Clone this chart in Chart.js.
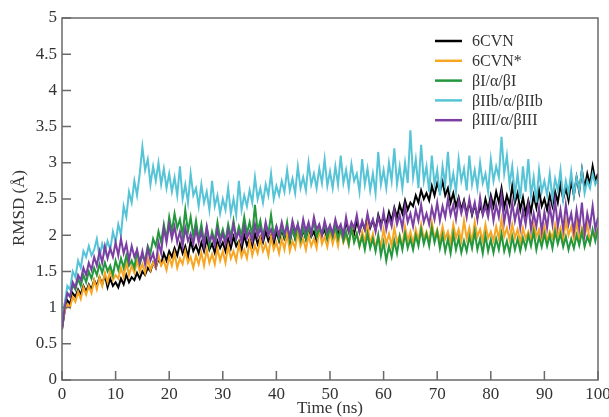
<!DOCTYPE html>
<html>
<head>
<meta charset="utf-8">
<script src="https://cdn.jsdelivr.net/npm/chart.js@4.4.1/dist/chart.umd.min.js"></script>
<style>
  html, body { margin: 0; padding: 0; background: #fff; }
  #wrap { width: 609px; height: 417px; position: relative; }
</style>
</head>
<body>
<div id="wrap"><canvas id="rmsd"></canvas></div>
<script>
// ── RMSD vs time, five tubulin systems, sampled every 0.5 ns (0–100 ns)
const T_STEP = 0.5;
const X_TICKS = [0, 10, 20, 30, 40, 50, 60, 70, 80, 90, 100];
const Y_TICKS = [0, 0.5, 1, 1.5, 2, 2.5, 3, 3.5, 4, 4.5, 5];

const labels = ['6CVN', '6CVN*', 'βI/α/βI', 'βIIb/α/βIIb', 'βIII/α/βIII'];
const colors = ['#000000', '#f7a623', '#23973c', '#56c4d6', '#7b3fa3'];

const rmsd_6cvn = [
  0.70, 0.95, 1.10, 1.05, 1.20, 1.15, 1.25, 1.18, 1.30, 1.22, 1.32,
  1.25, 1.38, 1.30, 1.42, 1.32, 1.45, 1.28, 1.40, 1.30, 1.35,
  1.28, 1.40, 1.32, 1.45, 1.35, 1.42, 1.38, 1.48, 1.40, 1.50,
  1.45, 1.55, 1.50, 1.62, 1.55, 1.68, 1.60, 1.75, 1.65, 1.78,
  1.70, 1.82, 1.72, 1.88, 1.75, 1.85, 1.70, 1.92, 1.78, 1.86,
  1.75, 1.90, 1.78, 1.95, 1.80, 1.88, 1.76, 1.92, 1.82, 1.90,
  1.78, 1.95, 1.82, 1.98, 1.85, 1.92, 1.80, 2.00, 1.86, 1.95,
  1.85, 2.02, 1.88, 1.98, 1.90, 2.05, 1.92, 2.00, 1.88, 2.05,
  1.92, 2.08, 1.95, 2.02, 1.90, 2.10, 1.95, 2.05, 1.92, 2.08,
  1.95, 2.10, 1.98, 2.05, 1.92, 2.12, 2.00, 2.08, 1.95, 2.10,
  1.98, 2.15, 2.02, 2.10, 2.00, 2.18, 2.05, 2.12, 2.02, 2.20,
  2.05, 2.18, 2.08, 2.25, 2.10, 2.20, 2.08, 2.28, 2.15, 2.25,
  2.15, 2.32, 2.20, 2.38, 2.25, 2.42, 2.30, 2.48, 2.35, 2.45,
  2.40, 2.55, 2.45, 2.62, 2.50, 2.58, 2.48, 2.68, 2.55, 2.72,
  2.60, 2.74, 2.55, 2.65, 2.45, 2.58, 2.40, 2.52, 2.35, 2.48,
  2.30, 2.45, 2.28, 2.42, 2.25, 2.40, 2.30, 2.50, 2.35, 2.55,
  2.40, 2.60, 2.45, 2.65, 2.38, 2.55, 2.42, 2.68, 2.45, 2.58,
  2.35, 2.52, 2.30, 2.48, 2.32, 2.55, 2.38, 2.62, 2.40, 2.50,
  2.35, 2.55, 2.40, 2.60, 2.45, 2.70, 2.50, 2.65, 2.48, 2.75,
  2.55, 2.80, 2.60, 2.90, 2.65, 2.85, 2.70, 2.95, 2.75, 2.85
];

const rmsd_6cvn_star = [
  0.75, 0.95, 1.05, 1.00, 1.15, 1.08, 1.22, 1.12, 1.28, 1.18, 1.30,
  1.20, 1.38, 1.25, 1.42, 1.30, 1.48, 1.35, 1.52, 1.38, 1.45,
  1.40, 1.55, 1.42, 1.62, 1.45, 1.58, 1.48, 1.65, 1.50, 1.60,
  1.48, 1.68, 1.52, 1.62, 1.55, 1.72, 1.58, 1.65, 1.52, 1.70,
  1.58, 1.75, 1.55, 1.68, 1.60, 1.78, 1.62, 1.70, 1.55, 1.72,
  1.60, 1.76, 1.58, 1.80, 1.62, 1.74, 1.60, 1.82, 1.65, 1.78,
  1.62, 1.85, 1.68, 1.78, 1.65, 1.88, 1.70, 1.80, 1.68, 1.92,
  1.72, 1.86, 1.75, 1.95, 1.78, 1.88, 1.72, 1.98, 1.80, 1.90,
  1.75, 1.95, 1.80, 2.02, 1.78, 1.92, 1.82, 2.05, 1.85, 1.95,
  1.80, 2.00, 1.85, 1.95, 1.82, 2.08, 1.88, 1.98, 1.84, 2.05,
  1.88, 2.02, 1.85, 2.10, 1.90, 2.00, 1.86, 2.12, 1.92, 2.02,
  1.85, 2.05, 1.90, 2.15, 1.88, 2.02, 1.82, 1.98, 1.85, 2.08,
  1.88, 2.02, 1.85, 2.10, 1.90, 2.00, 1.84, 2.12, 1.92, 2.05,
  1.88, 2.08, 1.92, 2.15, 1.95, 2.05, 1.90, 2.18, 1.95, 2.08,
  1.92, 2.12, 1.95, 2.05, 1.90, 2.15, 1.96, 2.08, 1.92, 2.20,
  1.95, 2.10, 1.90, 2.18, 1.98, 2.08, 1.92, 2.15, 1.96, 2.05,
  1.92, 2.12, 1.95, 2.22, 1.98, 2.10, 1.94, 2.15, 1.96, 2.08,
  1.90, 2.10, 1.95, 2.05, 1.92, 2.15, 1.98, 2.08, 1.94, 2.12,
  1.92, 2.05, 1.96, 2.15, 1.98, 2.10, 1.94, 2.20, 2.00, 2.12,
  1.95, 2.18, 1.92, 2.10, 1.98, 2.15, 1.90, 2.05, 2.00, 2.10
];

const rmsd_b1 = [
  0.80, 1.05, 1.20, 1.15, 1.32, 1.25, 1.40, 1.30, 1.45, 1.35, 1.50,
  1.40, 1.55, 1.45, 1.60, 1.48, 1.62, 1.50, 1.58, 1.45, 1.65,
  1.52, 1.68, 1.55, 1.72, 1.58, 1.65, 1.55, 1.78, 1.60, 1.72,
  1.65, 1.85, 1.75, 1.95, 1.85, 2.05, 1.90, 2.15, 1.95, 2.25,
  2.05, 2.30, 2.10, 2.22, 2.00, 2.35, 2.05, 2.25, 1.98, 2.20,
  1.95, 2.15, 1.90, 2.10, 1.85, 2.05, 1.92, 2.18, 1.95, 2.08,
  1.92, 2.15, 1.98, 2.20, 1.95, 2.12, 2.00, 2.25, 2.02, 2.18,
  2.00, 2.42, 2.05, 2.20, 1.98, 2.15, 2.02, 2.28, 2.00, 2.12,
  1.95, 2.10, 1.98, 2.18, 1.92, 2.08, 1.96, 2.15, 1.94, 2.10,
  1.95, 2.12, 2.00, 2.20, 1.98, 2.08, 2.02, 2.15, 1.96, 2.10,
  1.98, 2.12, 1.95, 2.08, 1.92, 2.05, 1.88, 2.10, 1.90, 2.02,
  1.85, 1.98, 1.80, 2.02, 1.82, 1.95, 1.78, 2.00, 1.72, 1.90,
  1.65, 1.85, 1.70, 1.92, 1.75, 1.98, 1.80, 2.02, 1.82, 1.95,
  1.80, 2.00, 1.85, 2.08, 1.88, 2.02, 1.85, 2.10, 1.90, 2.05,
  1.82, 2.00, 1.78, 1.95, 1.75, 2.02, 1.80, 1.96, 1.76, 1.92,
  1.78, 1.98, 1.82, 2.05, 1.80, 1.95, 1.75, 2.00, 1.78, 1.94,
  1.76, 1.95, 1.80, 2.02, 1.78, 1.92, 1.75, 1.98, 1.80, 1.95,
  1.78, 1.96, 1.82, 2.00, 1.85, 2.05, 1.80, 1.98, 1.84, 2.02,
  1.85, 2.00, 1.82, 2.05, 1.88, 2.02, 1.84, 1.98, 1.80, 1.95,
  1.82, 2.00, 1.86, 2.05, 1.84, 1.98, 1.88, 2.08, 1.92, 2.10
];

const rmsd_b2b = [
  0.75, 1.05, 1.30, 1.25, 1.50, 1.42, 1.65, 1.55, 1.78, 1.70, 1.85,
  1.72, 1.80, 1.95, 1.70, 1.88, 1.76, 1.92, 1.80, 2.05, 1.90,
  2.15, 2.00, 2.40, 2.25, 2.60, 2.45, 2.75, 2.55, 2.85, 3.22,
  2.90, 3.05, 2.70, 2.95, 2.75, 3.00, 2.70, 2.92, 2.65, 2.85,
  2.60, 2.80, 2.55, 2.95, 2.50, 2.70, 2.45, 2.85, 2.55, 2.65,
  2.40, 2.70, 2.45, 2.60, 2.35, 2.75, 2.40, 2.55, 2.30, 2.50,
  2.35, 2.65, 2.30, 2.50, 2.28, 2.75, 2.35, 2.55, 2.40, 2.62,
  2.45, 2.80, 2.50, 2.65, 2.45, 2.70, 2.55, 2.85, 2.50, 2.68,
  2.55, 2.75, 2.60, 2.90, 2.62, 2.78, 2.58, 2.95, 2.65, 2.80,
  2.62, 3.00, 2.70, 2.85, 2.65, 2.92, 2.72, 3.05, 2.68, 2.88,
  2.65, 2.95, 2.70, 3.10, 2.72, 2.90, 2.65, 2.98, 2.75, 2.85,
  2.60, 3.05, 2.70, 2.92, 2.62, 2.85, 2.58, 3.15, 2.70, 2.90,
  2.65, 3.00, 2.75, 3.20, 2.70, 2.95, 2.65, 3.00, 2.72, 3.45,
  2.80, 3.05, 2.65, 3.25, 2.75, 2.95, 2.60, 3.10, 2.70, 2.90,
  2.55, 2.95, 2.70, 3.15, 2.65, 2.85, 2.60, 3.05, 2.75, 2.92,
  2.62, 3.10, 2.70, 2.90, 2.65, 3.00, 2.72, 2.85, 2.60, 3.05,
  2.75, 2.95, 2.80, 3.36, 2.85, 3.10, 2.70, 2.95, 2.55, 2.85,
  2.50, 2.95, 2.60, 3.05, 2.55, 2.80, 2.45, 2.90, 2.60, 2.75,
  2.55, 2.85, 2.50, 2.78, 2.62, 2.90, 2.50, 2.75, 2.58, 2.88,
  2.55, 2.80, 2.62, 2.90, 2.58, 2.75, 2.65, 2.85, 2.70, 2.78
];

const rmsd_b3 = [
  0.70, 1.00, 1.20, 1.15, 1.35, 1.28, 1.45, 1.38, 1.55, 1.45, 1.62,
  1.52, 1.70, 1.58, 1.78, 1.62, 1.85, 1.68, 1.82, 1.70, 1.90,
  1.72, 1.95, 1.75, 1.88, 1.65, 1.85, 1.70, 1.80, 1.62, 1.78,
  1.60, 1.82, 1.65, 1.75, 1.58, 1.90, 1.75, 2.10, 1.90, 2.15,
  1.95, 2.12, 1.90, 2.05, 1.85, 2.10, 1.92, 2.02, 1.88, 2.08,
  1.90, 2.05, 1.85, 2.12, 1.92, 2.00, 1.86, 2.08, 1.90, 2.02,
  1.88, 2.08, 1.92, 2.15, 1.95, 2.05, 1.90, 2.12, 1.96, 2.05,
  1.92, 2.15, 1.98, 2.10, 1.95, 2.18, 2.00, 2.08, 1.96, 2.12,
  2.00, 2.18, 2.02, 2.12, 1.98, 2.20, 2.05, 2.15, 2.00, 2.22,
  2.05, 2.18, 2.02, 2.25, 2.08, 2.15, 2.00, 2.20, 2.05, 2.14,
  2.02, 2.22, 2.08, 2.15, 2.00, 2.25, 2.05, 2.18, 2.10, 2.28,
  2.05, 2.20, 2.08, 2.30, 2.12, 2.22, 2.05, 2.25, 2.10, 2.32,
  2.08, 2.25, 2.12, 2.35, 2.15, 2.28, 2.10, 2.40, 2.18, 2.30,
  2.12, 2.35, 2.20, 2.42, 2.18, 2.30, 2.15, 2.38, 2.22, 2.45,
  2.20, 2.40, 2.25, 2.50, 2.28, 2.42, 2.22, 2.48, 2.30, 2.45,
  2.25, 2.50, 2.30, 2.45, 2.22, 2.52, 2.28, 2.40, 2.25, 2.48,
  2.20, 2.42, 2.25, 2.55, 2.18, 2.40, 2.15, 2.45, 2.20, 2.38,
  2.10, 2.35, 2.15, 2.42, 2.08, 2.30, 2.12, 2.38, 2.05, 2.32,
  2.10, 2.40, 2.15, 2.48, 2.12, 2.35, 2.08, 2.42, 2.15, 2.30,
  2.05, 2.35, 2.10, 2.45, 2.02, 2.30, 2.12, 2.40, 2.08, 2.25
];

const series = [rmsd_6cvn, rmsd_6cvn_star, rmsd_b1, rmsd_b2b, rmsd_b3];
// black underneath, purple on top
const drawOrder = [5, 4, 3, 2, 1];

const FONT = "'Liberation Serif', 'Times New Roman', serif";
const AXIS = '#6a6a6a';
const TEXT = '#333333';

// ── INWARD TICKS, BOX, Y TITLE AND LEGEND ──
const framePlugin = {
  id: 'frame',
  afterDatasetsDraw(chart) {
    const { ctx, chartArea: a, scales } = chart;
    ctx.save();
    ctx.strokeStyle = AXIS;
    ctx.lineWidth = 1.5;
    ctx.strokeRect(a.left, a.top, a.right - a.left, a.bottom - a.top);
    ctx.beginPath();
    X_TICKS.forEach(v => {
      const px = scales.x.getPixelForValue(v);
      ctx.moveTo(px, a.bottom);
      ctx.lineTo(px, a.bottom - 9);
    });
    Y_TICKS.forEach(v => {
      const py = scales.y.getPixelForValue(v);
      ctx.moveTo(a.left, py);
      ctx.lineTo(a.left + 9, py);
    });
    ctx.stroke();

    // y axis title, sits a little below the plot's middle
    ctx.fillStyle = TEXT;
    ctx.font = '17px ' + FONT;
    ctx.textAlign = 'center';
    ctx.textBaseline = 'middle';
    ctx.translate(20, (a.top + a.bottom) / 2 + 9);
    ctx.rotate(-Math.PI / 2);
    ctx.fillText('RMSD (Å)', 0, 0);
    ctx.setTransform(1, 0, 0, 1, 0, 0);

    // legend
    ctx.font = '16px ' + FONT;
    ctx.textAlign = 'left';
    const x0 = a.right - 163;
    chart.data.datasets.forEach((ds, i) => {
      const y = a.top + 23 + i * 19.8;
      ctx.strokeStyle = ds.borderColor;
      ctx.lineWidth = 2.5;
      ctx.beginPath();
      ctx.moveTo(x0, y);
      ctx.lineTo(x0 + 27, y);
      ctx.stroke();
      ctx.fillText(ds.label, x0 + 37, y + 1);
    });
    ctx.restore();
  }
};

const datasets = series.map((vals, i) => ({
  label: labels[i],
  data: vals.map((v, k) => ({ x: k * T_STEP, y: v })),
  borderColor: colors[i],
  backgroundColor: colors[i],
  borderWidth: 2,
  pointRadius: 0,
  tension: 0,
  order: drawOrder[i]
}));

new Chart(document.getElementById('rmsd'), {
  type: 'line',
  data: { datasets },
  options: {
    animation: false,
    responsive: true,
    maintainAspectRatio: false,
    parsing: false,
    layout: { padding: { top: 18, right: 11, left: 0, bottom: 0 } },
    plugins: { legend: { display: false }, tooltip: { enabled: false } },
    scales: {
      x: {
        type: 'linear',
        min: 0, max: 100,
        afterBuildTicks: s => { s.ticks = X_TICKS.map(v => ({ value: v })); },
        afterFit: s => { s.height = 37; s.paddingLeft = 0; s.paddingRight = 0; },
        grid: { display: false, drawTicks: false },
        border: { display: false },
        ticks: { color: TEXT, font: { family: FONT, size: 17, lineHeight: 1 }, padding: 6, maxRotation: 0, autoSkip: false },
        title: { display: true, text: 'Time (ns)', color: TEXT, font: { family: FONT, size: 17, lineHeight: 1 }, padding: { top: 0, bottom: 0 } }
      },
      y: {
        min: 0, max: 5,
        afterBuildTicks: s => { s.ticks = Y_TICKS.map(v => ({ value: v })); },
        afterFit: s => { s.width = 62; },
        grid: { display: false, drawTicks: false },
        border: { display: false },
        ticks: { color: TEXT, font: { family: FONT, size: 17, lineHeight: 1 }, padding: 5, callback: v => String(v) },
        title: { display: false }
      }
    }
  },
  plugins: [framePlugin]
});
</script>
</body>
</html>
